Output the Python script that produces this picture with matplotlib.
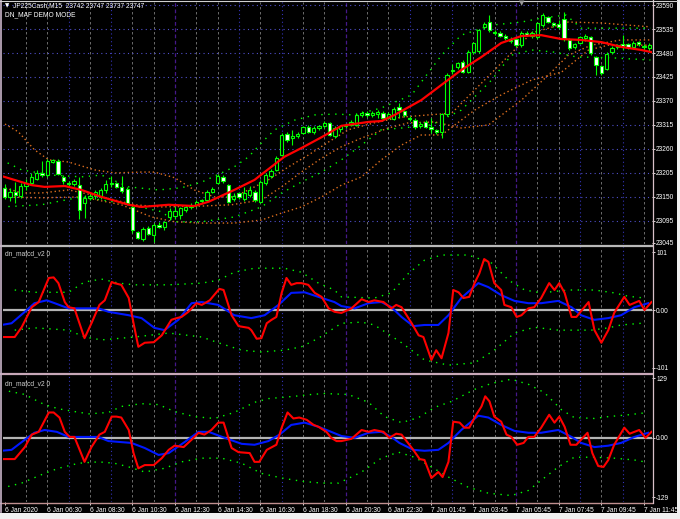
import matplotlib.pyplot as plt
from matplotlib.lines import Line2D
from matplotlib.patches import Rectangle

W, H = 680, 519
FONT = ['Liberation Sans', 'DejaVu Sans']
FS = 4.8

# ---- JP225Cash M15 bars ----
opens = [23170, 23150, 23162, 23153, 23175, 23182, 23192, 23205, 23200, 23230,
         23233, 23196, 23183, 23180, 23177, 23135, 23148, 23152, 23150, 23165,
         23180, 23182, 23172, 23168, 23127, 23070, 23053, 23078, 23062, 23085,
         23080, 23104, 23106, 23108, 23120, 23126, 23132, 23140, 23143, 23162,
         23183, 23196, 23177, 23145, 23158, 23145, 23155, 23161, 23139, 23183,
         23198, 23212, 23246, 23294, 23284, 23290, 23297, 23310, 23298, 23308,
         23312, 23320, 23290, 23306, 23312, 23316, 23315, 23338, 23342, 23338,
         23340, 23343, 23332, 23329, 23356, 23346, 23332, 23326, 23312, 23322,
         23310, 23304, 23300, 23340, 23438, 23448, 23460, 23437, 23482, 23484,
         23540, 23551, 23528, 23526, 23520, 23512, 23512, 23498, 23526, 23520,
         23517, 23544, 23562, 23548, 23547, 23558, 23510, 23494, 23503, 23514,
         23517, 23471, 23450, 23443, 23482, 23498, 23500, 23500, 23494, 23505,
         23496, 23492]
highs = [23180, 23170, 23185, 23182, 23190, 23205, 23212, 23232, 23238, 23238,
         23238, 23200, 23186, 23190, 23195, 23155, 23158, 23166, 23170, 23188,
         23198, 23185, 23197, 23172, 23132, 23072, 23082, 23083, 23090, 23092,
         23095, 23125, 23130, 23128, 23130, 23135, 23142, 23146, 23165, 23172,
         23202, 23200, 23180, 23158, 23162, 23172, 23175, 23165, 23188, 23204,
         23214, 23243, 23296, 23298, 23304, 23298, 23313, 23314, 23312, 23316,
         23324, 23322, 23312, 23316, 23320, 23326, 23342, 23346, 23348, 23346,
         23350, 23346, 23344, 23356, 23366, 23350, 23336, 23330, 23322, 23326,
         23330, 23306, 23342, 23434, 23454, 23460, 23464, 23486, 23506, 23536,
         23552, 23567, 23532, 23530, 23524, 23516, 23516, 23530, 23530, 23530,
         23552, 23572, 23566, 23552, 23556, 23575, 23514, 23504, 23520, 23524,
         23520, 23474, 23452, 23482, 23496, 23500, 23522, 23504, 23508, 23508,
         23500, 23502]
lows = [23145, 23140, 23135, 23148, 23165, 23178, 23188, 23195, 23196, 23228,
        23200, 23180, 23176, 23176, 23100, 23102, 23144, 23145, 23145, 23158,
        23172, 23170, 23160, 23132, 23068, 23053, 23050, 23062, 23047, 23078,
        23075, 23098, 23100, 23100, 23116, 23122, 23128, 23136, 23140, 23158,
        23180, 23182, 23135, 23140, 23146, 23140, 23150, 23138, 23135, 23178,
        23194, 23210, 23244, 23276, 23270, 23286, 23294, 23296, 23294, 23304,
        23308, 23290, 23286, 23300, 23308, 23312, 23312, 23334, 23334, 23334,
        23332, 23326, 23328, 23326, 23330, 23334, 23324, 23306, 23308, 23308,
        23296, 23294, 23286, 23336, 23432, 23444, 23434, 23434, 23478, 23480,
        23536, 23528, 23522, 23516, 23510, 23504, 23494, 23494, 23518, 23514,
        23512, 23540, 23548, 23540, 23536, 23508, 23486, 23490, 23500, 23508,
        23476, 23430, 23430, 23440, 23478, 23490, 23486, 23490, 23490, 23496,
        23488, 23484]
closes = [23150, 23162, 23155, 23175, 23182, 23196, 23205, 23200, 23232, 23234,
          23203, 23186, 23180, 23186, 23120, 23148, 23152, 23162, 23166, 23180,
          23182, 23173, 23164, 23136, 23074, 23056, 23077, 23065, 23085, 23082,
          23092, 23118, 23118, 23125, 23128, 23132, 23138, 23143, 23162, 23168,
          23198, 23186, 23139, 23152, 23150, 23160, 23165, 23143, 23184, 23200,
          23210, 23240, 23292, 23280, 23290, 23294, 23310, 23300, 23308, 23312,
          23320, 23292, 23308, 23312, 23316, 23322, 23338, 23342, 23338, 23342,
          23344, 23330, 23340, 23352, 23349, 23338, 23328, 23310, 23318, 23311,
          23306, 23298, 23340, 23430, 23442, 23456, 23437, 23482, 23502, 23532,
          23546, 23533, 23526, 23520, 23514, 23508, 23498, 23526, 23522, 23526,
          23549, 23567, 23551, 23545, 23540, 23512, 23491, 23500, 23517, 23520,
          23480, 23452, 23434, 23478, 23492, 23494, 23496, 23494, 23504, 23500,
          23494, 23498]

# moving average (red) and envelope lines, sampled at bar positions
ma_x = [-0.6, 5.1, 7.5, 11.3, 14.4, 18.2, 23.3, 25.7, 30.8, 35.6, 38.3, 43.1,
        46.9, 52.5, 55.7, 59.5, 63.2, 68.3, 70.7, 73.2, 78.2, 82.0, 85.7, 89.5,
        93.2, 97.0, 100.7, 104.5, 108.2, 112.0, 115.7, 119.5, 121.4]
ma = [23198, 23177, 23173, 23175, 23166, 23150, 23132, 23127, 23132, 23129,
      23139, 23166, 23189, 23242, 23262, 23287, 23313, 23322, 23324, 23338,
      23372, 23407, 23441, 23471, 23503, 23519, 23521, 23512, 23510, 23505,
      23494, 23487, 23482]

env_up_x = [-0.6, 2.6, 5.6, 8.3, 12.0, 16.9, 20.6, 25.7, 28.1, 31.9, 35.6,
            39.4, 43.1, 46.9, 49.5, 53.3, 57.0, 60.8, 64.5, 69.4, 74.5, 79.5,
            83.9, 89.5, 93.8, 98.9, 102.1, 105.8, 111.9, 121.2]
env_up = [23322, 23299, 23258, 23235, 23230, 23212, 23205, 23207, 23207,
          23194, 23166, 23150, 23150, 23173, 23189, 23219, 23246, 23276, 23304,
          23320, 23333, 23338, 23342, 23411, 23464, 23526, 23537, 23551, 23549,
          23540]
env_mid_x = [-0.6, 3.2, 6.9, 12.0, 18.2, 24.4, 29.5, 37.0, 42.6, 48.2, 52.0,
             55.7, 59.5, 63.2, 67.0, 72.0, 75.8, 80.7, 85.7, 90.8, 97.0, 102.1,
             105.8, 110.1, 115.7, 121.2]
env_mid = [23173, 23159, 23159, 23166, 23150, 23132, 23127, 23129, 23132,
           23143, 23173, 23207, 23239, 23265, 23285, 23308, 23320, 23322, 23308,
           23315, 23372, 23430, 23475, 23498, 23510, 23510]
env_low_x = [-0.6, 6.9, 14.4, 21.9, 27.6, 31.9, 37.0, 43.1, 48.2, 52.0, 55.7,
             59.5, 63.2, 67.0, 70.7, 74.5, 78.2, 82.0, 88.2, 93.2, 98.9, 104.5,
             109.6, 113.3, 121.2]
env_low = [23150, 23148, 23150, 23132, 23104, 23093, 23090, 23090, 23097,
           23113, 23127, 23150, 23177, 23196, 23235, 23269, 23292, 23292, 23349,
           23384, 23418, 23436, 23487, 23498, 23498]

band_up_x = [-0.6, 3.2, 8.8, 14.4, 18.2, 23.3, 28.9, 33.2, 37.0, 40.7, 43.1,
             45.8, 48.2, 50.7, 54.4, 58.2, 61.9, 65.7, 70.7, 76.4, 82.0, 85.7,
             91.4, 97.0, 100.7, 105.4, 108.2, 113.9, 121.2]
band_up = [23235, 23212, 23200, 23196, 23200, 23173, 23166, 23171, 23184,
           23205, 23219, 23242, 23274, 23304, 23326, 23338, 23340, 23338, 23354,
           23384, 23475, 23521, 23544, 23551, 23560, 23567, 23537, 23537, 23537]
band_low_x = [-0.6, 6.9, 14.4, 21.9, 29.5, 31.9, 37.0, 43.1, 48.2, 52.0, 55.7,
              59.5, 63.2, 67.0, 70.7, 74.5, 80.1, 85.7, 91.4, 95.1, 98.9, 103.2,
              107.3, 113.9, 121.2]
band_low = [23127, 23132, 23150, 23136, 23116, 23093, 23093, 23104, 23127,
            23159, 23184, 23207, 23235, 23269, 23304, 23308, 23315, 23349, 23418,
            23475, 23487, 23482, 23471, 23469, 23464]

price_ticks = [23590, 23535, 23480, 23425, 23370, 23315, 23260, 23205, 23150,
               23095, 23045]

# ---- dn_mafcd_v2 (first window) ----
m1_red_x = [-0.6, 1.9, 3.2, 5.1, 6.4, 8.3, 9.2, 10.1, 11.3, 12.0, 13.1, 15.0,
            16.3, 17.8, 18.8, 20.1, 20.6, 21.9, 23.3, 24.2, 25.1, 26.3, 28.0,
            29.5, 31.3, 32.3, 33.2, 34.5, 36.0, 37.0, 38.5, 40.3, 41.1, 42.6,
            43.9, 45.8, 46.3, 47.3, 48.2, 49.2, 50.1, 51.0, 52.0, 52.9, 53.8,
            54.8, 55.7, 57.0, 58.2, 59.5, 60.8, 61.9, 63.2, 65.1, 67.0, 68.3,
            69.4, 71.1, 72.6, 73.5, 74.5, 76.4, 77.7, 78.6, 80.1, 81.0, 82.0,
            83.3, 84.2, 85.2, 86.1, 87.2, 88.2, 89.1, 90.0, 90.8, 91.9, 93.2,
            93.8, 95.1, 96.1, 97.0, 98.3, 99.4, 100.7, 102.2, 103.2, 104.1,
            105.1, 106.4, 107.3, 109.6, 110.7, 112.0, 113.3, 114.4, 116.3,
            117.3, 119.1, 120.1, 121.4]
m1_red = [-47, -47, -30, 5, 14, 56, 57, 47, 14, 5, 3, -49, -23, 9, 17, 49, 47,
          44, 21, -23, -64, -57, -56, -44, -17, -14, -12, -3, 12, 9, 17, 37, 35,
          -9, -28, -31, -35, -50, -49, -23, -17, -12, 30, 56, 44, 47, 47, 44,
          30, 23, 3, -3, -5, 3, 19, 14, 17, 14, 3, 9, 5, -23, -44, -47, -87,
          -70, -84, -40, 35, 31, 21, 23, 47, 64, 89, 84, 47, 35, 9, 5, -12, -9,
          3, 5, 21, 47, 35, 47, 30, -12, -12, 14, -35, -57, -35, -5, 23, 9, 16,
          0, 14]
m1_blue_x = [-0.6, 1.3, 3.8, 5.6, 7.9, 9.4, 12.0, 15.0, 17.6, 19.5, 23.3, 25.7,
             28.1, 30.0, 32.6, 35.1, 37.0, 40.1, 43.1, 46.3, 48.8, 51.4, 53.8,
             56.3, 58.9, 61.9, 63.2, 65.7, 68.3, 70.7, 72.6, 74.5, 76.7, 78.8,
             81.4, 83.3, 85.7, 88.9, 90.8, 93.2, 95.7, 98.3, 100.7, 103.9,
             106.4, 108.2, 110.7, 113.3, 115.7, 118.2, 120.8]
m1_blue = [-26, -23, -3, 12, 17, 12, 3, 3, 3, -3, -9, -14, -31, -35, -17, 12,
           14, 9, -9, -14, -9, 9, 30, 31, 23, 14, 7, 3, 12, 14, 5, -12, -28, -26,
           -26, -9, 21, 47, 40, 26, 16, 12, 12, 16, 5, -9, -17, -14, -9, 5, 12]
m1_up_x = [1.9, 5.6, 12.0, 15.0, 18.2, 21.4, 24.4, 30.8, 37.0, 40.1, 43.1,
           46.9, 52.5, 55.7, 58.9, 61.9, 63.2, 69.4, 72.6, 75.8, 78.8, 82.0,
           87.0, 91.4, 94.6, 97.6, 100.7, 105.8, 110.7, 114.4, 117.1, 120.1]
m1_up = [35, 31, 31, 49, 54, 47, 44, 44, 47, 52, 66, 73, 73, 66, 47, 35, 23,
         21, 30, 64, 87, 96, 96, 82, 52, 35, 30, 35, 35, 30, 24, 21]
m1_dn_x = [1.9, 5.6, 12.0, 15.0, 18.2, 24.4, 30.8, 37.0, 40.1, 44.5, 48.2,
           52.5, 55.7, 58.9, 61.9, 63.2, 67.0, 69.4, 74.5, 78.8, 83.3, 88.2,
           91.9, 95.7, 99.4, 103.9, 110.1, 113.3, 115.7, 119.5]
m1_dn = [-35, -31, -35, -47, -52, -47, -40, -47, -57, -70, -73, -70, -64, -49,
         -31, -23, -21, -26, -57, -87, -96, -92, -70, -40, -30, -35, -35, -31,
         -26, -23]

# ---- dn_mafcd_v2 (second window) ----
m2_red_x = [-0.6, 1.9, 3.8, 5.1, 6.4, 8.3, 9.2, 10.3, 11.3, 12.2, 13.1, 15.0,
            16.3, 17.8, 18.8, 20.1, 21.0, 21.9, 23.3, 24.2, 25.1, 26.3, 28.0,
            29.5, 30.8, 31.9, 33.6, 35.1, 36.4, 37.5, 38.8, 40.1, 41.1, 42.6,
            43.9, 46.0, 46.9, 47.8, 49.2, 51.0, 52.0, 53.1, 54.2, 55.3, 56.7,
            58.0, 58.9, 60.4, 61.3, 62.3, 63.2, 65.1, 67.0, 68.3, 69.4, 71.1,
            72.2, 73.5, 74.5, 76.7, 77.9, 78.8, 80.1, 81.4, 82.2, 83.3, 84.2,
            85.4, 86.3, 87.2, 88.5, 89.5, 90.2, 91.0, 91.9, 93.2, 94.2, 95.1,
            96.2, 97.4, 98.3, 99.4, 100.7, 102.2, 103.2, 104.1, 105.1, 106.2,
            107.3, 109.4, 110.3, 111.4, 112.4, 113.3, 114.4, 116.3, 117.3,
            119.1, 120.3, 121.4]
m2_red = [-46, -46, -20, 7, 13, 55, 55, 44, 13, 2, 2, -52, -20, 7, 13, 46, 46,
          44, 17, -33, -66, -59, -59, -44, -26, -17, -20, -4, 11, 7, 17, 33, 33,
          -22, -31, -33, -52, -52, -26, -15, 22, 55, 42, 44, 39, 28, 24, 13, 0,
          -7, -7, -2, 17, 13, 17, 13, 0, 9, 7, -26, -46, -48, -87, -74, -85,
          -52, 35, 33, 22, 22, 50, 68, 90, 79, 46, 35, 7, 2, -15, -11, 2, 2, 22,
          50, 33, 46, 24, -15, -15, 11, -33, -61, -63, -48, -15, 22, 9, 17, 0,
          13]
m2_blue_x = [-0.6, 1.3, 3.8, 5.6, 7.5, 9.8, 12.0, 15.0, 17.6, 19.5, 23.8, 26.3,
             28.9, 30.8, 33.8, 36.4, 38.3, 41.3, 44.5, 46.9, 49.5, 51.6, 53.8,
             56.3, 58.9, 61.3, 63.2, 65.7, 68.3, 70.7, 72.6, 74.1, 76.7, 78.8,
             81.4, 83.3, 85.7, 88.9, 90.8, 93.2, 95.7, 98.3, 100.7, 103.9,
             106.4, 108.2, 110.7, 113.3, 115.7, 118.2, 120.8]
m2_blue = [-28, -26, -4, 11, 17, 13, 2, 2, 2, -7, -11, -22, -37, -33, -9, 13,
           13, 0, -13, -15, -7, 7, 28, 33, 24, 13, 4, 0, 11, 13, 2, -11, -26,
           -28, -26, -11, 17, 48, 44, 28, 15, 11, 11, 17, 2, -11, -20, -17, -11,
           2, 11]
m2_up_x = [0.8, 3.8, 5.6, 7.5, 10.1, 13.1, 15.8, 19.5, 21.9, 25.7, 28.9, 31.9,
           35.6, 39.4, 43.1, 46.9, 49.5, 54.4, 57.6, 60.0, 64.5, 68.3, 71.3,
           74.5, 77.7, 80.7, 83.9, 88.2, 91.4, 95.1, 98.3, 101.3, 104.5, 106.9,
           110.7, 113.3, 117.1, 120.8]
m2_up = [101, 94, 83, 72, 63, 57, 52, 55, 68, 74, 72, 57, 46, 42, 55, 77, 85,
         90, 94, 96, 94, 77, 46, 33, 44, 66, 79, 105, 118, 127, 116, 98, 61, 44,
         42, 46, 50, 55]
m2_dn_x = [-0.6, 3.2, 7.5, 10.1, 13.9, 17.6, 20.6, 23.3, 26.3, 30.0, 33.2,
           37.0, 40.7, 44.5, 48.2, 52.0, 55.7, 59.5, 62.7, 67.0, 70.7, 73.9,
           76.9, 80.1, 83.3, 87.0, 90.8, 95.1, 98.3, 100.7, 103.9, 106.9, 110.7,
           114.4, 118.2, 120.1]
m2_dn = [-109, -98, -77, -66, -55, -52, -55, -63, -74, -66, -52, -44, -44, -55,
         -77, -87, -94, -98, -98, -74, -44, -31, -42, -63, -85, -107, -120,
         -125, -114, -92, -63, -42, -42, -44, -48, -52]

time_ticks = list(range(0, 121, 8))
time_labels = ['6 Jan 2020', '6 Jan 06:30', '6 Jan 08:30', '6 Jan 10:30',
               '6 Jan 12:30', '6 Jan 14:30', '6 Jan 16:30', '6 Jan 18:30',
               '6 Jan 20:30', '6 Jan 22:30', '7 Jan 01:45', '7 Jan 03:45',
               '7 Jan 05:45', '7 Jan 07:45', '7 Jan 09:45', '7 Jan 11:45']


def px_rect(x0, y0, x1, y1):
    return [x0 / W, 1 - y1 / H, (x1 - x0) / W, (y1 - y0) / H]


fig = plt.figure(figsize=(W / 100, H / 100), dpi=100, facecolor='black')

ax_p = fig.add_axes(px_rect(3, 2, 652, 244))
ax_1 = fig.add_axes(px_rect(3, 247, 652, 372), sharex=ax_p)
ax_2 = fig.add_axes(px_rect(3, 376, 652, 502), sharex=ax_p)

ax_p.set_ylim(23042, 23597)
ax_1.set_ylim(-108, 110)
ax_2.set_ylim(-139, 134)
ax_p.set_xlim(-0.3, 121.5)

for ax in (ax_p, ax_1, ax_2):
    ax.set_facecolor('black')
    for s in ax.spines.values():
        s.set_visible(False)
    ax.yaxis.tick_right()
    ax.tick_params(axis='y', colors='white', labelsize=FS, length=2,
                   width=0.6, pad=1)
    ax.tick_params(axis='x', bottom=False, labelbottom=False)
    # vertical grid every hour; session lines in blue / purple
    for k, b in enumerate(range(4, 121, 4)):
        kind = k % 8
        if kind == 7:
            ax.axvline(b, color='#46188a', lw=0.9, ls=(0, (3, 2)), zorder=0)
        elif kind in (2, 4):
            ax.axvline(b, color='#3434b8', lw=0.8, ls=(0, (1, 2.5)), zorder=0)
        else:
            ax.axvline(b, color='#7c7c7c', lw=0.6, ls=(0, (3, 3)), zorder=0)

# ---- price window ----
ax_p.set_yticks(price_ticks)
ax_p.set_yticklabels([str(v) for v in price_ticks], family=FONT)
for v in price_ticks[:-1]:
    ax_p.axhline(v, color='#5050cc', lw=0.8, ls=(0, (1, 3)), zorder=0)

dot_or = dict(color='#dc6e1e', lw=1.0, ls=(0, (1, 2)), zorder=1)
ax_p.plot(env_up_x, env_up, **dot_or)
ax_p.plot(env_mid_x, env_mid, **dot_or)
ax_p.plot(env_low_x, env_low, **dot_or)
dot_gr = dict(color='#00ff00', lw=1.0, ls=(0, (1, 4)), zorder=1)
ax_p.plot(band_up_x, band_up, **dot_gr)
ax_p.plot(band_low_x, band_low, **dot_gr)

xs = list(range(len(closes)))
ax_p.vlines(xs, lows, highs, color='#00ff00', lw=0.8, zorder=2)
faces = ['white' if c < o else 'black' for o, c in zip(opens, closes)]
ax_p.bar(xs, [abs(c - o) for o, c in zip(opens, closes)],
         bottom=[min(o, c) for o, c in zip(opens, closes)], width=0.62,
         color=faces, edgecolor='#00ff00', linewidth=0.8, zorder=3)
ax_p.plot(ma_x, ma, color='#ff0000', lw=1.6, zorder=4)

# ---- oscillator windows ----
for ax, top, rx, ry, bx, by, ux, uy, dx, dy in (
        (ax_1, 101, m1_red_x, m1_red, m1_blue_x, m1_blue,
         m1_up_x, m1_up, m1_dn_x, m1_dn),
        (ax_2, 129, m2_red_x, m2_red, m2_blue_x, m2_blue,
         m2_up_x, m2_up, m2_dn_x, m2_dn)):
    ax.set_yticks([top, 0, -top])
    ax.set_yticklabels([str(top), '0.00', '-' + str(top)], family=FONT)
    ax.axhline(0, color='#b4b4b4', lw=1.6, zorder=1)
    ax.plot(ux, uy, **dot_gr)
    ax.plot(dx, dy, **dot_gr)
    ax.plot(bx, by, color='#0018ff', lw=1.5, zorder=3)
    ax.plot(rx, ry, color='#ff0000', lw=1.5, zorder=4)
    ax.text(0.003, 0.97, 'dn_mafcd_v2 0', transform=ax.transAxes,
            color='#d0d0d0', fontsize=FS, family=FONT, va='top', ha='left')

ax_2.tick_params(axis='x', bottom=True, labelbottom=True, colors='white',
                 labelsize=FS, length=2, width=0.6, pad=1.5)
ax_2.set_xticks(time_ticks)
ax_2.set_xticklabels(time_labels, family=FONT)
for lbl in ax_2.get_xticklabels():
    lbl.set_ha('left')

# ---- header ----
fig.text(5 / W, 1 - 5.5 / H, '\u25bc', color='white', fontsize=4,
         family=['DejaVu Sans'], va='center', ha='left')
fig.text(13 / W, 1 - 5.5 / H, 'JP225Cash,M15  23742 23747 23737 23747',
         color='white', fontsize=FS, family=FONT, va='center', ha='left')
fig.text(5 / W, 1 - 15 / H, 'DN_MAF DEMO MODE', color='white', fontsize=FS,
         family=FONT, va='center', ha='left')
fig.text(522 / W, 1 - 0.5 / H, '\u25bc', color='#9a9a9a', fontsize=5,
         family=['DejaVu Sans'], va='top', ha='center')

# ---- window separators and frame ----
def hline(y, x0, x1, color, lw):
    fig.add_artist(Line2D([x0 / W, x1 / W], [1 - y / H, 1 - y / H],
                          color=color, lw=lw))


def vline(x, y0, y1, color, lw):
    fig.add_artist(Line2D([x / W, x / W], [1 - y0 / H, 1 - y1 / H],
                          color=color, lw=lw))


hline(245.5, 0, 652, '#b8b8b8', 1.6)
hline(374, 0, 652, '#c8a8b8', 1.6)
hline(502.5, 0, 652, '#c09090', 1.0)
vline(652.5, 0, 502.5, '#d8c0c8', 0.9)
vline(0.8, 0, 512, '#c8b4c8', 1.2)
hline(0.5, 0, 677, '#d0d0d0', 0.8)
fig.add_artist(Rectangle((0, 0), 1, 6 / H, transform=fig.transFigure,
                         facecolor='#f0f0f0', edgecolor='none'))
fig.add_artist(Rectangle((677 / W, 0), 3 / W, 1, transform=fig.transFigure,
                         facecolor='#f0f0f0', edgecolor='none'))

fig.savefig('out.png', dpi=100, facecolor='black')
